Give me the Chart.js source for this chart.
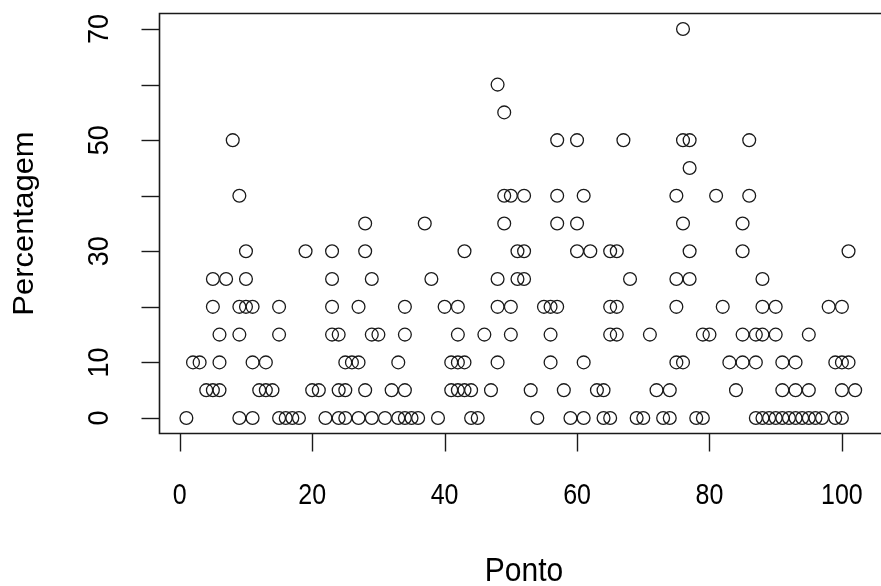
<!DOCTYPE html>
<html><head><meta charset="utf-8">
<script src="https://cdn.jsdelivr.net/npm/chart.js@4/dist/chart.umd.min.js"></script>
<style>html,body{margin:0;padding:0;background:#fff;} #wrap{width:881px;height:586px;position:relative;}</style>
</head><body><div id="wrap"><canvas id="c" width="881" height="586"></canvas></div>
<script>
// Ponto (x) values observed at each Percentagem level
const pct0  = [1,9,11,15,16,17,18,22,24,25,27,29,31,33,34,35,36,39,44,45,54,59,61,64,65,69,70,73,74,78,79,87,88,89,90,91,92,93,94,95,96,97,99,100];
const pct5  = [4,5,6,12,13,14,20,21,24,25,28,32,34,41,42,43,44,47,53,58,63,64,72,74,84,91,93,95,100,102];
const pct10 = [2,3,6,11,13,25,26,27,33,41,42,43,48,56,61,75,76,83,85,87,91,93,99,100,101];
const pct15 = [6,9,15,23,24,29,30,34,42,46,50,56,65,66,71,79,80,85,87,88,90,95];
const pct20 = [5,9,10,11,15,23,27,34,40,42,48,50,55,56,57,65,66,75,82,88,90,98,100];
const pct25 = [5,7,10,23,29,38,48,51,52,68,75,77,88];
const pct30 = [10,19,23,28,43,51,52,60,62,65,66,77,85,101];
const pct35 = [28,37,49,57,60,76,85];
const pct40 = [9,49,50,52,57,61,75,81,86];
const pct45 = [77];
const pct50 = [8,57,60,67,76,77,86];
const pct55 = [49];
const pct60 = [48];
const pct70 = [76];

const levels = [0,5,10,15,20,25,30,35,40,45,50,55,60,70];
const pontosPorNivel = [pct0,pct5,pct10,pct15,pct20,pct25,pct30,pct35,pct40,pct45,pct50,pct55,pct60,pct70];

const xTicks = [0,20,40,60,80,100];
const xTickLabels = ['0','20','40','60','80','100'];
const yTicks = [0,10,20,30,40,50,60,70];
const yTickLabels = ['0','10','','30','','50','','70'];
const xTitle = 'Ponto';
const yTitle = 'Percentagem';

const points = [];
levels.forEach((lv, i) => pontosPorNivel[i].forEach(p => points.push({x: p, y: lv})));

const FONT = '"Liberation Sans", Arial, Helvetica, sans-serif';

function tallText(ctx, txt, x, y, rot, size, sx, sy) {
  ctx.save();
  ctx.translate(x, y);
  if (rot) ctx.rotate(rot);
  ctx.scale(sx, sy);
  ctx.font = size + 'px ' + FONT;
  ctx.textAlign = 'center';
  ctx.textBaseline = 'middle';
  ctx.fillText(txt, 0, 0);
  ctx.restore();
}

const rAxes = {
  id: 'rAxes',
  afterDraw(chart) {
    const ctx = chart.ctx, a = chart.chartArea;
    const xs = chart.scales.x, ys = chart.scales.y;
    ctx.save();
    ctx.strokeStyle = '#1a1a1a';
    ctx.fillStyle = '#000';
    ctx.lineWidth = 1.6;
    ctx.beginPath();
    ctx.moveTo(a.right + 10, a.top);
    ctx.lineTo(a.left, a.top);
    ctx.lineTo(a.left, a.bottom);
    ctx.lineTo(a.right + 10, a.bottom);
    ctx.stroke();
    ctx.lineWidth = 1.4;
    xTicks.forEach((t, i) => {
      const px = Math.round(xs.getPixelForValue(t)) + 0.5;
      ctx.beginPath(); ctx.moveTo(px, a.bottom); ctx.lineTo(px, a.bottom + 18); ctx.stroke();
      tallText(ctx, xTickLabels[i], xs.getPixelForValue(t), 496, 0, 25, 1, 1.2);
    });
    yTicks.forEach((t, i) => {
      const py = Math.round(ys.getPixelForValue(t)) + 0.5;
      ctx.beginPath(); ctx.moveTo(a.left, py); ctx.lineTo(a.left - 18, py); ctx.stroke();
      if (yTickLabels[i]) tallText(ctx, yTickLabels[i], 100, ys.getPixelForValue(t), -Math.PI / 2, 27, 1, 1.1);
    });
    tallText(ctx, xTitle, 524, 572, 0, 30, 1, 1.12);
    tallText(ctx, yTitle, 25, (a.top + a.bottom) / 2, -Math.PI / 2, 31, 1, 0.95);
    ctx.restore();
  }
};

new Chart(document.getElementById('c'), {
  type: 'scatter',
  data: { datasets: [{
    data: points,
    pointStyle: 'circle',
    pointRadius: 6.4,
    pointHoverRadius: 6.4,
    borderWidth: 1.3,
    borderColor: '#1a1a1a',
    backgroundColor: 'rgba(0,0,0,0)'
  }]},
  options: {
    responsive: false,
    devicePixelRatio: 1,
    animation: false,
    events: [],
    layout: { padding: { left: 159.5, top: 13.5, right: 0, bottom: 152.5 } },
    plugins: { legend: { display: false }, tooltip: { enabled: false } },
    scales: {
      x: { type: 'linear', display: false, min: -3.06, max: 104.74 },
      y: { type: 'linear', display: false, min: -2.8, max: 72.8 }
    }
  },
  plugins: [rAxes]
});
</script>
</body></html>
